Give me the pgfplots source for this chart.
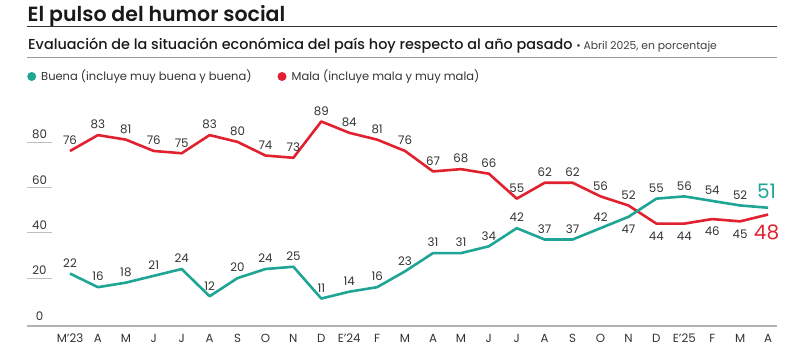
\documentclass[border=0pt]{standalone}
\usepackage{pgfplots}
\pgfplotsset{compat=1.18}
\usepackage{pgfplotstable}
\usepackage{fontspec}
\setmainfont[BoldFont={Poppins SemiBold}]{Poppins}
\newfontfamily\medfont{Poppins Medium}
\definecolor{cbuena}{HTML}{1FA595}
\definecolor{cmala}{HTML}{E1212F}
\definecolor{ctext}{HTML}{333333}
\pgfplotsset{/pgf/number format/assume math mode=true}

\pgfplotstableread{
x buena mala
0 22 76
1 16 83
2 18 81
3 21 76
4 24 75
5 12 83
6 20 80
7 24 74
8 25 73
9 11 89
10 14 84
11 16 81
12 23 76
13 31 67
14 31 68
15 34 66
16 42 55
17 37 62
18 37 62
19 42 56
20 47 52
21 55 44
22 56 44
23 54 46
24 52 45
25 51 48
}\datatable

\newcommand{\lblfont}{\fontsize{11.8}{12}\selectfont}

\begin{document}
\begin{tikzpicture}
\useasboundingbox (0,0) rectangle (800pt,354pt);
% title
\node[anchor=base west, inner sep=0pt, text=black!90] at (27.5pt,354pt-21.7pt) {\fontsize{20.5}{22}\selectfont\bfseries El pulso del humor social};
\draw[black!80, line width=1pt] (27pt,354pt-26.7pt) -- (777pt,354pt-26.7pt);
\node[anchor=base west, inner sep=0pt, text=black!90] at (28pt,354pt-50pt) {\medfont\fontsize{14.4}{16}\selectfont Evaluación de la situación económica del país hoy respecto al año pasado {\normalfont\fontsize{10.8}{12}\selectfont\color{black!75} • Abril 2025, en porcentaje}};
\draw[black!40, line width=1.3pt] (27pt,354pt-57.5pt) -- (777pt,354pt-57.5pt);
% legend
\fill[cbuena] (31.7pt,354pt-76.5pt) circle (4.5pt);
\node[anchor=base west, inner sep=0pt, text=ctext] at (41pt,354pt-81pt) {\fontsize{11.5}{13}\selectfont Buena (incluye muy buena y buena)};
\fill[cmala] (282pt,354pt-76.5pt) circle (4.5pt);
\node[anchor=base west, inner sep=0pt, text=ctext] at (291.5pt,354pt-81pt) {\fontsize{11.5}{13}\selectfont Mala (incluye mala y muy mala)};

\begin{axis}[
  at={(27pt,28pt)}, anchor=south west, scale only axis,
  width=750pt, height=229.5pt,
  xmin=-1.54, xmax=25.32, ymin=-1.1, ymax=100,
  axis x line*=bottom, axis y line*=left,
  x axis line style={draw=black!30, line width=1.3pt},
  y axis line style={draw=none},
  tick style={draw=none},
  xtick={0,...,25},
  xticklabels={M'23,A,M,J,J,A,S,O,N,D,E'24,F,M,A,M,J,J,A,S,O,N,D,E'25,F,M,A},
  xticklabel style={font=\lblfont, text=ctext, anchor=north, inner sep=0pt, yshift=-8pt},
  ytick={0,20,40,60,80},
  yticklabel style={font=\lblfont, text=ctext, anchor=south, inner sep=0pt, xshift=12.5pt, yshift=3pt},
  clip=false,
  every node near coord/.append style={font=\lblfont, text=ctext, inner sep=0pt},
]
\pgfplotsinvokeforeach{20,40,60,80}{\draw[black!25, line width=0.8pt] (axis cs:-1.54,#1) -- (axis cs:-0.645,#1);}

\addplot[cmala, line width=2.6pt, line join=round] table[x=x, y=mala] {\datatable};
\addplot[cbuena, line width=2.6pt, line join=round] table[x=x, y=buena] {\datatable};

% labels above / below
\addplot[draw=none, mark=none, restrict x to domain=0:20, nodes near coords,
  every node near coord/.append style={anchor=south, yshift=6pt}] table[x=x, y=mala] {\datatable};
\addplot[draw=none, mark=none, restrict x to domain=21:24, nodes near coords,
  every node near coord/.append style={anchor=north, yshift=-8pt}] table[x=x, y=mala] {\datatable};
\addplot[draw=none, mark=none, restrict x to domain=0:19, nodes near coords,
  every node near coord/.append style={anchor=south, yshift=6pt}] table[x=x, y=buena] {\datatable};
\addplot[draw=none, mark=none, restrict x to domain=21:24, nodes near coords,
  every node near coord/.append style={anchor=south, yshift=6pt}] table[x=x, y=buena] {\datatable};
\addplot[draw=none, mark=none, restrict x to domain=20:20, nodes near coords,
  every node near coord/.append style={anchor=north, yshift=-8pt}] table[x=x, y=buena] {\datatable};
% final labels
\addplot[draw=none, mark=none, restrict x to domain=25:25, nodes near coords,
  every node near coord/.append style={anchor=south, yshift=9pt, xshift=-1.5pt, text=cbuena, font=\fontsize{20}{22}\selectfont}] table[x=x, y=buena] {\datatable};
\addplot[draw=none, mark=none, restrict x to domain=25:25, nodes near coords,
  every node near coord/.append style={anchor=north, yshift=-10pt, xshift=-1.5pt, text=cmala, font=\fontsize{20}{22}\selectfont}] table[x=x, y=mala] {\datatable};
\end{axis}
\end{tikzpicture}
\end{document}
